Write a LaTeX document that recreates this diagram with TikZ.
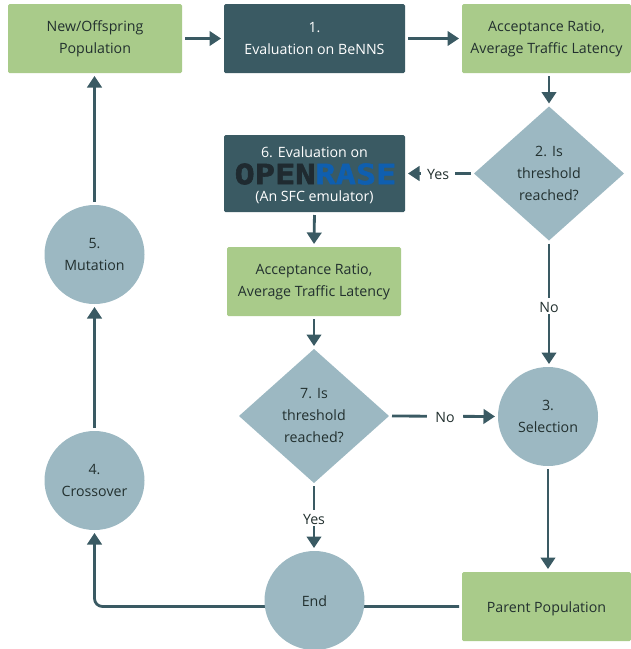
\documentclass[tikz,border=0pt]{standalone}
\usepackage{fontspec}
\setmainfont{Open Sans}
\newfontfamily\logofont{DejaVu Sans Mono Bold}[FakeBold=2,FakeStretch=1.2]
\usetikzlibrary{arrows.meta,shapes.geometric}
\definecolor{grn}{HTML}{A9CB8A}
\definecolor{teal}{HTML}{3A5A63}
\definecolor{blu}{HTML}{9CB8C2}
\definecolor{ink}{HTML}{22302F}
\definecolor{logod}{HTML}{1F2A30}
\definecolor{logob}{HTML}{0F5FB0}
\tikzset{
  txt/.style={font=\fontsize{14.2}{22}\selectfont,align=center,text=ink,inner sep=0pt,outer sep=0pt,execute at begin node=\rule{0pt}{12pt}},
  gbox/.style={txt,fill=grn,rounded corners=1.5pt,minimum width=#1,minimum height=69},
  dbox/.style={txt,fill=teal,text=white,rounded corners=1.5pt,minimum width=181,minimum height=#1},
  circ/.style={txt,ellipse,fill=blu,minimum width=100,minimum height=99},
  dia/.style={txt,diamond,fill=blu,minimum width=150,minimum height=134,aspect=1.1},
  conn/.style={draw=teal,line width=2.8pt,-{Triangle[length=11.5pt,width=14.5pt]},shorten >=3pt,shorten <=3pt},
  lab/.style={txt,fill=white,inner sep=2pt}
}
\begin{document}
\begin{tikzpicture}[x=1pt,y=-1pt]
\useasboundingbox (0,0) rectangle (631,649);
\node[gbox=174] (off) at (95,38.5) {New/Offspring\\Population};
\node[dbox=69] (ev1) at (314.5,38.5) {1.\\Evaluation on BeNNS};
\node[gbox=169] (acc1) at (546.5,38.5) {Acceptance Ratio,\\Average Traffic Latency};
\node[dia] (d2) at (549,173.5) {2. Is\\threshold\\reached?};
\node[dbox=77] (ev6) at (314.5,173.5) {};
\node[txt,text=white] (t6a) at (314.5,152) {6. Evaluation on};
\node[txt,font=\logofont\fontsize{28}{28}\selectfont,execute at begin node={}] (logo) at (315.5,174) {\textcolor{logod}{OPEN}\textcolor{logob}{RASE}};
\node[txt,text=white] (t6b) at (314.5,197) {(An SFC emulator)};
\node[gbox=174] (acc2) at (314,281.5) {Acceptance Ratio,\\Average Traffic Latency};
\node[dia] (d7) at (314,416) {7. Is\\threshold\\reached?};
\node[circ] (c3) at (548,416.5) {3.\\Selection};
\node[gbox=169] (par) at (546.5,606.5) {\rule{0pt}{16pt}Parent Population};
\node[circ] (c4) at (94.5,480.5) {4.\\Crossover};
\node[circ] (c5) at (94.5,254.5) {5.\\Mutation};
\draw[conn,rounded corners=8pt] (par.west) -| (c4.south);
\node[circ] (endn) at (314.5,600.5) {End};
\draw[conn] (off) -- (ev1);
\draw[conn] (ev1) -- (acc1);
\draw[conn] (acc1.south -| d2.north) -- (d2.north);
\draw[conn] (d2.west) -- node[lab,pos=.52] (yes1) {~Yes~} (ev6.east);
\draw[conn] (ev6.south) -- (acc2.north);
\draw[conn] (acc2.south) -- (d7.north);
\draw[conn] (d7.east) -- node[lab,pos=.515,inner xsep=5pt] (no1) {~No~} (c3.west);
\draw[conn] (d2.south) -- node[lab,pos=.52] (no2) {No} (c3.north -| d2.south);
\draw[conn] (c3.south) -- (c3.south |- par.north);
\draw[conn] (d7.south) -- node[lab,pos=.52] (yes2) {Yes} (d7.south |- endn.north);
\draw[conn] (c4.north) -- (c5.south);
\draw[conn] (c5.north) -- (c5.north |- off.south);
\end{tikzpicture}
\end{document}
